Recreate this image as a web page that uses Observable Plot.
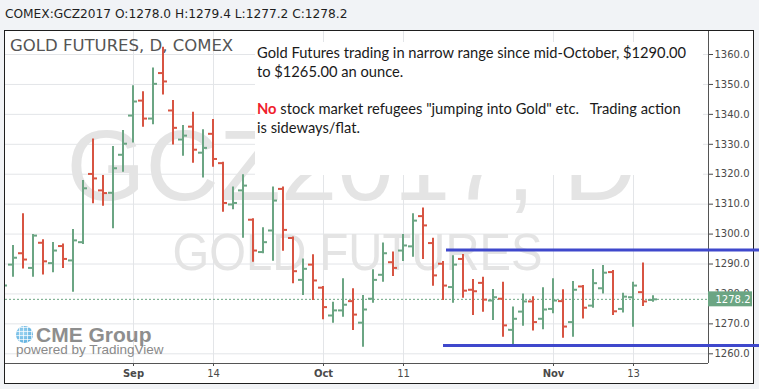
<!DOCTYPE html>
<html>
<head>
<meta charset="utf-8">
<script src="https://cdn.jsdelivr.net/npm/d3@7"></script>
<script src="https://cdn.jsdelivr.net/npm/@observablehq/plot@0.6"></script>
<style>
html,body{margin:0;padding:0;background:#f1f3f6;}
#wrap{position:relative;width:759px;height:389px;overflow:hidden;background:#f1f3f6;}
#panel{position:absolute;left:4px;top:30px;width:748px;height:352px;border:1px solid #1e1e1e;background:#fff;}
#chart{position:absolute;left:0;top:0;}
#header{position:absolute;left:5px;top:7px;font:12.2px/14px "DejaVu Sans",sans-serif;color:#1e1e1e;white-space:pre;}
#legend{position:absolute;left:10px;top:36px;font:16.5px/20px "DejaVu Sans",sans-serif;color:#555;white-space:pre;}
#note{position:absolute;left:255px;top:42px;width:448px;height:133px;background:#fff;padding:1px 0 0 2px;box-sizing:border-box;font:14.7px/18.7px "Lato",sans-serif;color:#1a1a1a;white-space:pre;}
#note div{height:18.7px;}
#note b{color:#f01e2c;}
#globe{position:absolute;left:16px;top:326px;width:17px;height:17px;border-radius:50%;background:radial-gradient(circle at 40% 40%,#9fd6f2,#4aa3d8);overflow:hidden;}
#globe:after{content:"";position:absolute;inset:0;background:repeating-linear-gradient(0deg,transparent 0 3px,rgba(255,255,255,.7) 3px 4px),repeating-linear-gradient(90deg,transparent 0 3px,rgba(255,255,255,.7) 3px 4px);}
#cme{position:absolute;left:36px;top:323px;font:bold 21px/24px "Liberation Sans",sans-serif;color:#8e8e8e;white-space:pre;}
#pow{position:absolute;left:16px;top:342px;font:13.5px/16px "Liberation Sans",sans-serif;color:#8a8a8a;white-space:pre;}
</style>
</head>
<body>
<div id="wrap">
  <div id="panel"></div>
</div>
<script>
// ---- data (daily OHLC bars, COMEX Gold Dec 2017, one entry per session) ----
const open  = [1280.0,1289.8,1293.6,1288.7,1297.1,1290.3,1296.0,1291.2,1297.3,1320.1,1314.6,1313.8,1326.5,1339.6,1344.6,1338.6,1353.8,1341.3,1331.6,1335.9,1327.2,1333.5,1323.7,1309.9,1314.6,1304.8,1294.0,1301.2,1315.1,1298.7,1284.7,1289.8,1282.1,1272.8,1274.5,1277.6,1270.4,1278.4,1286.4,1290.6,1294.5,1295.9,1306.0,1297.0,1290.1,1282.3,1291.7,1281.4,1283.7,1277.8,1278.4,1268.0,1274.1,1277.5,1271.7,1275.0,1277.6,1270.6,1282.5,1276.1,1281.9,1287.3,1275.0,1278.9,1280.6,1278.0];
const high  = [1285.0,1296.2,1306.8,1299.9,1298.1,1297.2,1296.7,1301.5,1317.9,1331.8,1319.6,1329.3,1334.6,1349.6,1347.6,1355.5,1362.4,1344.6,1336.3,1340.7,1334.9,1338.3,1324.0,1315.7,1319.8,1305.1,1302.1,1315.7,1315.7,1299.0,1291.7,1293.1,1282.5,1277.2,1285.1,1281.7,1279.5,1288.1,1297.0,1294.0,1299.9,1306.8,1308.7,1298.6,1290.8,1292.8,1293.2,1284.8,1285.6,1281.5,1283.9,1275.6,1280.0,1279.1,1282.1,1285.1,1281.4,1284.2,1282.8,1288.2,1289.5,1287.8,1280.2,1283.9,1290.3,1279.4];
const low   = [1278.0,1285.6,1288.3,1285.6,1286.3,1287.1,1288.5,1280.6,1296.5,1310.1,1309.3,1301.8,1320.7,1330.4,1335.7,1336.5,1346.5,1329.8,1326.0,1323.7,1318.7,1322.3,1307.3,1308.1,1298.6,1290.6,1293.4,1290.9,1294.3,1283.4,1279.5,1277.8,1271.4,1270.2,1272.2,1267.8,1262.2,1276.9,1283.9,1285.8,1290.8,1292.3,1291.5,1282.6,1277.8,1276.9,1278.6,1272.8,1273.9,1271.1,1265.5,1262.8,1269.2,1267.6,1268.0,1273.4,1265.2,1265.5,1271.6,1275.2,1280.0,1272.8,1273.6,1268.9,1275.8,1277.2];
const close = [1282.8,1292.1,1291.5,1299.5,1290.9,1294.5,1291.7,1297.9,1315.3,1318.6,1313.7,1322.0,1330.2,1344.3,1338.6,1350.2,1351.0,1335.5,1332.9,1328.2,1328.8,1325.1,1310.4,1310.4,1316.2,1294.5,1297.3,1311.2,1301.4,1287.6,1288.4,1284.5,1275.6,1274.5,1276.4,1273.1,1274.8,1284.7,1293.6,1288.7,1296.2,1304.5,1302.9,1286.2,1282.8,1289.8,1281.1,1280.9,1278.1,1278.9,1269.5,1271.7,1277.5,1270.6,1274.8,1277.8,1269.1,1281.4,1275.4,1283.6,1287.1,1274.2,1279.1,1282.8,1277.5,1278.2];

// axis ticks (session index -> label)
const xTickIdx    = [13, 21, 32, 40, 55, 63];
const xTickLabels = ["Sep", "14", "Oct", "11", "Nov", "13"];
const monthLabels = ["Sep", "Oct", "Nov"];
const yTicks      = [1260, 1270, 1280, 1290, 1300, 1310, 1320, 1330, 1340, 1350, 1360];

// drawn horizontal range lines: price level and the session where each starts
const levelPrice = [1294.7, 1262.8];
const levelStart = [44.3, 44.0];

const symbol = "COMEX:GCZ2017";
const legendText = "GOLD FUTURES, D, COMEX";
const watermark1 = "GCZ2017, D";
const watermark2 = "GOLD FUTURES";
const noteLines = [
  ["", "Gold Futures trading in narrow range since mid-October, $1290.00"],
  ["", "to $1265.00 an ounce."],
  ["", ""],
  ["No", " stock market refugees \"jumping into Gold\" etc.   Trading action"],
  ["", "is sideways/flat."]
];

// ---- build ----
const up = "#6ba583", down = "#d75442", blue = "#3f48cc";
const bars = open.map((o, k) => ({i: k, o, h: high[k], l: low[k], c: close[k]}));
const last = bars[bars.length - 1];
const xDomain = [0.2, 70.5];
const yDomain = [1256.76, 1367.69];
const xEdge = 75.6;   // right edge of the picture, in session units
const xBox = 74.9;    // right end of the price label box
const colorOf = d => d.c >= d.o ? up : down;
const levels = levelPrice.map((p, k) => ({p, s: levelStart[k]}));

const plot = Plot.plot({
  width: 759, height: 389,
  marginLeft: 5, marginRight: 51, marginTop: 31, marginBottom: 26,
  style: {background: "transparent", fontFamily: "DejaVu Sans", fontSize: "10px", color: "#4a4a4a", overflow: "visible"},
  color: {type: "identity"},
  x: {domain: xDomain, ticks: xTickIdx, tickFormat: d => xTickLabels[xTickIdx.indexOf(d)], tickSize: 3, tickPadding: 3, label: null},
  y: {domain: yDomain, axis: "right", ticks: yTicks, tickFormat: d => d.toFixed(1), tickSize: 4, tickPadding: 2, label: null},
  marks: [
    Plot.ruleY(yTicks, {stroke: "#e3e5e8"}),
    Plot.ruleX(xTickIdx, {stroke: "#e3e5e8"}),
    Plot.text([watermark1], {frameAnchor: "middle", text: d => d, dx: -5.5, dy: -30, fontSize: 101, fontFamily: "Liberation Sans", fill: "#e4e4e4"}),
    Plot.text([watermark2], {frameAnchor: "middle", text: d => d, dx: 0.5, dy: 56, fontSize: 52, fontFamily: "Liberation Sans", fill: "#e4e4e4"}),
    Plot.ruleY([last.c], {stroke: up, strokeDasharray: "2,2"}),
    Plot.ruleX(bars, {x: "i", y1: "l", y2: "h", stroke: colorOf, strokeWidth: 2, dx: -0.5, clip: true}),
    Plot.ruleY(bars, {y: "o", x1: d => d.i - 0.45, x2: "i", stroke: colorOf, strokeWidth: 2, dx: -0.5, clip: true}),
    Plot.ruleY(bars, {y: "c", x1: "i", x2: d => d.i + 0.45, stroke: colorOf, strokeWidth: 2, dx: -0.5, clip: true}),
    Plot.ruleX([xDomain[1]], {stroke: "#555"}),
    Plot.ruleY([yDomain[0]], {stroke: "#555"}),
    Plot.rect([last], {x1: xDomain[1], x2: xBox, y1: d => d.c - 2.5, y2: d => d.c + 2.5, fill: up}),
    Plot.text([last], {x: xDomain[1], y: "c", text: d => d.c.toFixed(1), dx: 7, textAnchor: "start", fill: "white", fontSize: 10}),
    Plot.ruleY(levels, {y: "p", x1: "s", x2: () => xEdge, stroke: blue, strokeWidth: 3})
  ]
});
plot.id = "chart";
document.getElementById("wrap").appendChild(plot);

const svg = d3.select(plot);
svg.selectAll("text").each(function() {
  const t = this.textContent;
  if (monthLabels.includes(t)) d3.select(this).attr("font-weight", "bold");
  if (t === watermark1) d3.select(this).attr("textLength", 570).attr("lengthAdjust", "spacingAndGlyphs");
  if (t === watermark2) d3.select(this).attr("textLength", 370).attr("lengthAdjust", "spacingAndGlyphs");
});

// ---- html overlays ----
const wrap = d3.select("#wrap");
wrap.append("div").attr("id", "header")
  .text(`${symbol} O:${last.o.toFixed(1)} H:${last.h.toFixed(1)} L:${last.l.toFixed(1)} C:${last.c.toFixed(1)}`);
wrap.append("div").attr("id", "legend").text(legendText);
const note = wrap.append("div").attr("id", "note");
noteLines.forEach(([bold, rest]) => {
  const line = note.append("div");
  if (bold) line.append("b").text(bold);
  line.append("span").text(rest);
});
wrap.append("div").attr("id", "globe");
wrap.append("div").attr("id", "cme").text("CME Group");
wrap.append("div").attr("id", "pow").text("powered by TradingView");
</script>
</body>
</html>
